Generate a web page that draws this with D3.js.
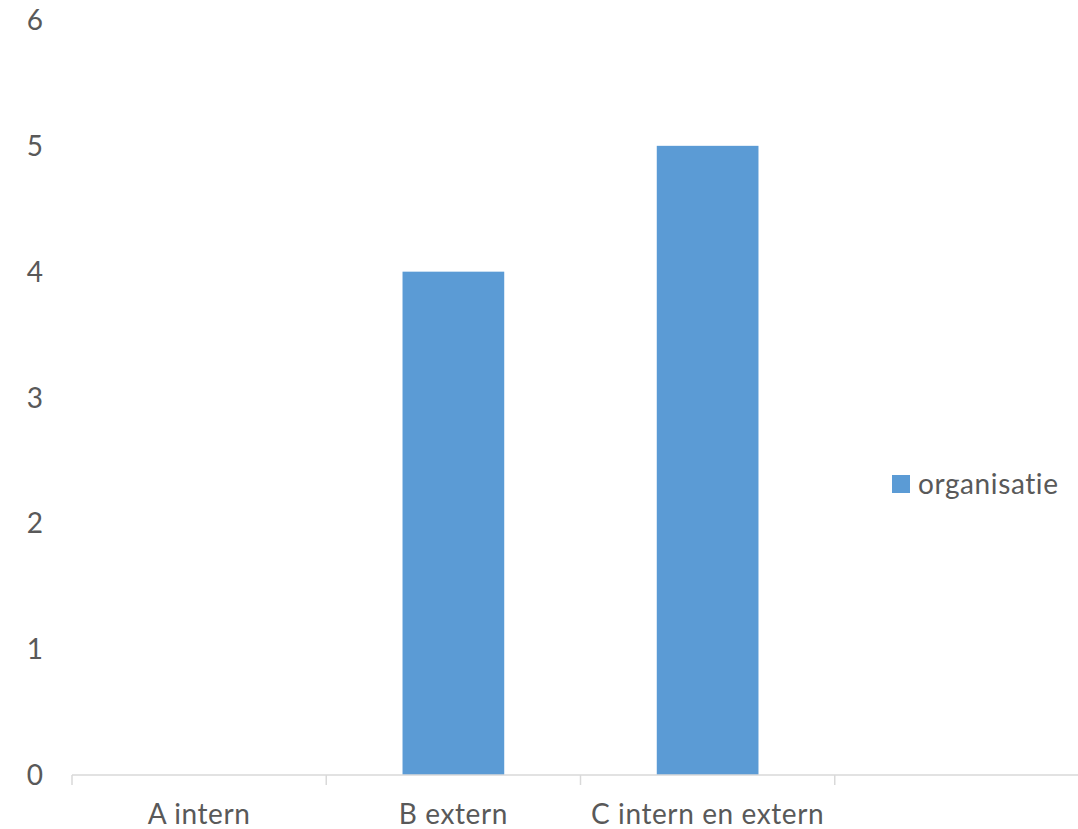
<!DOCTYPE html>
<html><head><meta charset="utf-8">
<script src="https://cdn.jsdelivr.net/npm/d3@7"></script>
<style>body{margin:0;background:#fff}svg{display:block}</style>
</head><body>
<svg id="c" width="1078" height="829"></svg>
<script>
const categories = ["A intern", "B extern", "C intern en extern", ""];
const seriesName = "organisatie";
const values = [0, 4, 5, null];
const yTicks = [0, 1, 2, 3, 4, 5, 6];

const svg = d3.select("#c");
const font = "Lato, 'Open Sans', sans-serif";
const txt = "#595959";
const fs = "28px";
const ls = "0.6px";

const x = d3.scaleBand().domain(categories).range([72, 1089]).padding(0);
const inner = d3.scaleBand().domain([seriesName]).range([0, x.bandwidth()]).paddingInner(0.6).paddingOuter(0.3);
const y = d3.scaleLinear().domain([0, 6]).range([775, 20]);

// y labels (no axis line)
svg.append("g").selectAll("text").data(yTicks).join("text")
  .attr("x", 43).attr("y", d => y(d)).attr("dy", "0.36em")
  .attr("text-anchor", "end").attr("fill", txt)
  .style("font-family", font).style("font-size", fs)
  .text(d => d);

// bars
svg.append("g").selectAll("rect").data(categories.map((c, i) => ({c, v: values[i]})).filter(d => d.v != null && d.v > 0))
  .join("rect")
  .attr("x", d => x(d.c) + inner(seriesName)).attr("width", inner.bandwidth())
  .attr("y", d => y(d.v)).attr("height", d => y(0) - y(d.v))
  .attr("fill", "#5b9bd5");

// x axis
const xAxis = svg.append("g").attr("transform", `translate(0,${y(0)})`);
xAxis.append("line").attr("x1", 72).attr("x2", 1078).attr("stroke", "#d9d9d9").attr("stroke-width", 1.5);
xAxis.selectAll("line.t").data(categories).join("line").attr("class", "t")
  .attr("x1", d => x(d)).attr("x2", d => x(d)).attr("y1", 0).attr("y2", 10)
  .attr("stroke", "#d9d9d9").attr("stroke-width", 1.5);
xAxis.selectAll("text").data(categories).join("text")
  .attr("x", d => x(d) + x.bandwidth() / 2).attr("y", 49)
  .attr("text-anchor", "middle").attr("fill", txt)
  .style("font-family", font).style("font-size", fs).style("letter-spacing", ls)
  .text(d => d);

// legend
const lg = svg.append("g").attr("transform", "translate(892,475)");
lg.append("rect").attr("width", 18).attr("height", 18).attr("fill", "#5b9bd5");
lg.append("text").attr("x", 26).attr("y", 9).attr("dy", "0.36em").attr("fill", txt)
  .style("font-family", font).style("font-size", fs).style("letter-spacing", ls).text(seriesName);
</script>
</body></html>
